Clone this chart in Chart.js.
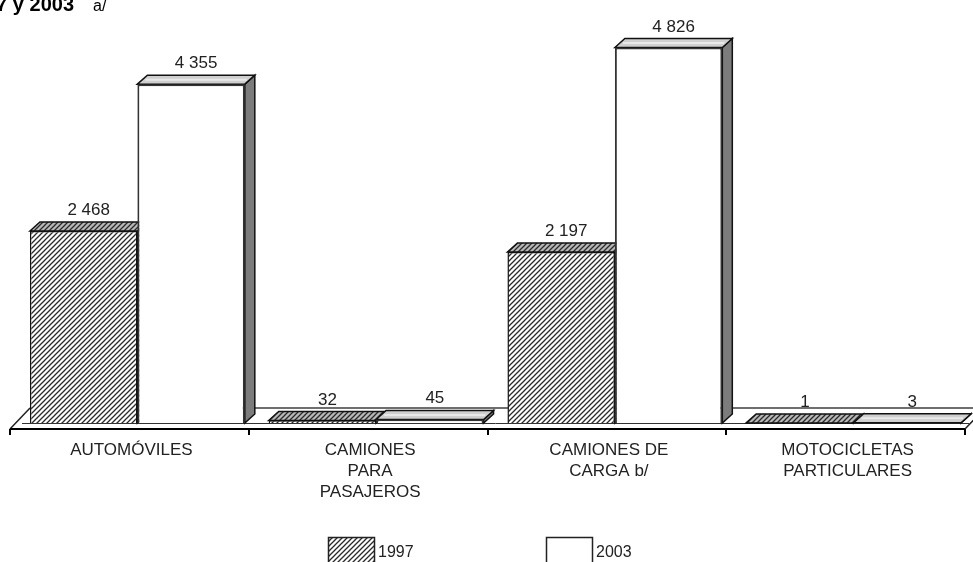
<!DOCTYPE html>
<html>
<head>
<meta charset="utf-8">
<script src="https://cdn.jsdelivr.net/npm/chart.js@4/dist/chart.umd.min.js"></script>
<style>
    html, body { margin: 0; padding: 0; background: #fff; }
    #wrap { width: 973px; height: 562px; overflow: hidden; }
</style>
</head>
<body>
<div id="wrap"><canvas id="vehicle-chart" width="973" height="562"></canvas></div>
<script>
const categories = [
    ['AUTOMÓVILES'],
    ['CAMIONES', 'PARA', 'PASAJEROS'],
    ['CAMIONES DE', 'CARGA b/'],
    ['MOTOCICLETAS', 'PARTICULARES']
];
const years = ['1997', '2003'];
const values1997 = [2468, 32, 2197, 1];
const values2003 = [4355, 45, 4826, 3];
const titleText = '1997 y 2003';
const titleNote = 'a/';

const depthX = 10;
const depthY = -9;
const labelFont = '17px "Liberation Sans", Arial, sans-serif';

function makeHatch(bg) {
    const c = document.createElement('canvas');
    c.width = 5;
    c.height = 5;
    const g = c.getContext('2d');
    g.fillStyle = bg;
    g.fillRect(0, 0, 5, 5);
    g.strokeStyle = '#2a2a2a';
    g.lineWidth = 1.3;
    g.beginPath();
    g.moveTo(-1, 6); g.lineTo(6, -1);
    g.moveTo(-1, 1); g.lineTo(1, -1);
    g.moveTo(4, 6); g.lineTo(6, 4);
    g.stroke();
    return g.createPattern(c, 'repeat');
}

const ctx = document.getElementById('vehicle-chart').getContext('2d');
const hatch = makeHatch('#ffffff');
const hatchDark = makeHatch('#b8b8b8');

function formatValue(v) {
    return String(v).replace(/\B(?=(\d{3})+(?!\d))/g, ' ');
}

function poly(g, pts, fill, stroke, lw) {
    g.beginPath();
    g.moveTo(pts[0][0], pts[0][1]);
    for (let i = 1; i < pts.length; i++) g.lineTo(pts[i][0], pts[i][1]);
    g.closePath();
    if (fill) { g.fillStyle = fill; g.fill(); }
    if (stroke) { g.strokeStyle = stroke; g.lineWidth = lw || 1; g.stroke(); }
}

// floor, axis and the depth faces of the bars, drawn behind the fronts
const fake3d = {
    id: 'fake3d',
    beforeDatasetsDraw(chart) {
        const g = chart.ctx;
        const area = chart.chartArea;
        const xs = chart.scales.x;
        const y0 = chart.scales.y.getPixelForValue(0);
        const catW = (area.right - area.left) / categories.length;
        g.save();

        // back edge of the floor
        g.strokeStyle = '#6e6e6e';
        g.lineWidth = 2;
        g.beginPath();
        g.moveTo(area.left + 12, y0 - 15);
        g.lineTo(area.right + 14, y0 - 15);
        g.stroke();

        // slanted ends of the floor
        g.strokeStyle = '#222';
        g.lineWidth = 1.5;
        g.beginPath();
        g.moveTo(area.left - 8, y0 + 6);
        g.lineTo(area.left + 12, y0 - 15);
        g.moveTo(area.right - 8, y0 + 6);
        g.lineTo(area.right + 12, y0 - 15);
        g.stroke();

        // bar bottoms line
        g.strokeStyle = '#333';
        g.lineWidth = 1;
        g.beginPath();
        g.moveTo(area.left + 4, y0 + 0.5);
        g.lineTo(area.right - 4, y0 + 0.5);
        g.stroke();

        // axis with ticks
        g.strokeStyle = '#000';
        g.lineWidth = 2;
        g.beginPath();
        g.moveTo(area.left - 8, y0 + 6);
        g.lineTo(area.right - 8, y0 + 6);
        for (let i = 0; i <= categories.length; i++) {
            const tx = Math.round(area.left + i * catW - 8);
            g.moveTo(tx, y0 + 6);
            g.lineTo(tx, y0 + 12);
        }
        g.stroke();

        chart.data.datasets.forEach((ds, d) => {
            const meta = chart.getDatasetMeta(d);
            meta.data.forEach(el => {
                const p = el.getProps(['x', 'y', 'base', 'width'], true);
                const l = p.x - p.width / 2;
                const r = p.x + p.width / 2;
                const t = p.y;
                const b = p.base;
                const sideFill = d === 0 ? hatchDark : '#7c7c7c';
                const topFill = d === 0 ? hatchDark : '#cfcfcf';
                poly(g, [[r, t], [r + depthX, t + depthY], [r + depthX, b + depthY], [r, b]], sideFill, '#111', 1.5);
                poly(g, [[l, t], [l + depthX, t + depthY], [r + depthX, t + depthY], [r, t]], topFill, '#111', 1.5);
                if (d === 1) {
                    // lighter band on the top face
                    g.strokeStyle = '#e8e8e8';
                    g.lineWidth = 2;
                    g.beginPath();
                    g.moveTo(l + depthX / 2 + 3, t + depthY / 2);
                    g.lineTo(r + depthX / 2 - 3, t + depthY / 2);
                    g.stroke();
                }
            });
        });
        g.restore();
    },
    afterDatasetsDraw(chart) {
        const g = chart.ctx;
        const xs = chart.scales.x;
        const y0 = chart.scales.y.getPixelForValue(0);
        g.save();

        // value labels above each bar
        g.font = labelFont;
        g.fillStyle = '#222';
        g.textAlign = 'center';
        g.textBaseline = 'alphabetic';
        chart.data.datasets.forEach((ds, d) => {
            const meta = chart.getDatasetMeta(d);
            meta.data.forEach((el, i) => {
                const p = el.getProps(['x', 'y'], true);
                g.fillText(formatValue(ds.data[i]), p.x + depthX / 2, p.y + depthY - 7);
            });
        });

        // category labels
        categories.forEach((lines, i) => {
            const cx = xs.getPixelForValue(i) - 6;
            lines.forEach((line, k) => {
                g.fillText(line, cx, y0 + 32 + k * 21);
            });
        });

        // legend
        const legendX = [328, 546];
        g.textAlign = 'left';
        g.font = '16px "Liberation Sans", Arial, sans-serif';
        chart.data.datasets.forEach((ds, d) => {
            const lx = legendX[d];
            g.fillStyle = ds.backgroundColor;
            g.fillRect(lx, 537, 46, 30);
            g.strokeStyle = '#222';
            g.lineWidth = 1.5;
            g.strokeRect(lx + 0.5, 537.5, 46, 30);
            g.fillStyle = '#222';
            g.fillText(ds.label, lx + 50, 557);
        });

        // title, cut by the left edge as in the source
        g.fillStyle = '#000';
        g.font = 'bold 20px "Liberation Sans", Arial, sans-serif';
        g.textAlign = 'right';
        g.fillText(titleText, 74, 11);
        g.font = '16px "Liberation Sans", Arial, sans-serif';
        g.textAlign = 'left';
        g.fillText(titleNote, 93, 11);
        g.restore();
    }
};

const vehicleChart = new Chart(ctx, {
    type: 'bar',
    data: {
        labels: categories,
        datasets: [
            {
                label: years[0],
                data: values1997,
                backgroundColor: hatch,
                borderColor: '#111',
                borderWidth: 1.5,
                categoryPercentage: 0.9,
                barPercentage: 1.0
            },
            {
                label: years[1],
                data: values2003,
                backgroundColor: '#ffffff',
                borderColor: '#333',
                borderWidth: 2,
                categoryPercentage: 0.9,
                barPercentage: 1.0
            }
        ]
    },
    options: {
        responsive: false,
        animation: false,
        devicePixelRatio: 1,
        layout: {
            padding: { left: 18, right: 0, top: 34, bottom: 139 }
        },
        scales: {
            x: { display: false },
            y: { display: false, min: 0, max: 5000 }
        },
        plugins: {
            legend: { display: false },
            tooltip: { enabled: false }
        }
    },
    plugins: [fake3d]
});
</script>
</body>
</html>
